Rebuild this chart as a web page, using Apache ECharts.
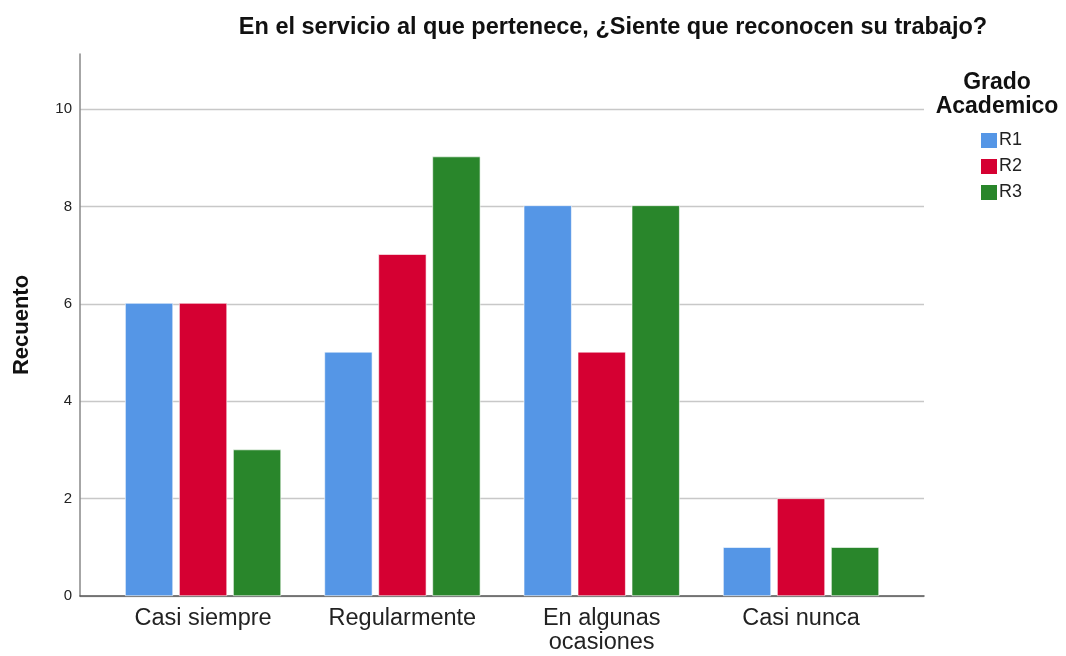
<!DOCTYPE html>
<html>
<head>
<meta charset="utf-8">
<script src="https://cdn.jsdelivr.net/npm/echarts@6/dist/echarts.min.js"></script>
<style>
  html, body { margin: 0; padding: 0; background: #fff; }
  #chart { width: 1066px; height: 656px; }
</style>
</head>
<body>
<div id="chart"></div>
<script>
// 数据
const categories = ['Casi siempre', 'Regularmente', 'En algunas\nocasiones', 'Casi nunca']
const seriesNames = ['R1', 'R2', 'R3']
const r1 = [6, 5, 8, 1]
const r2 = [6, 7, 5, 2]
const r3 = [3, 9, 8, 1]
const yTicks = [0, 2, 4, 6, 8, 10]

const colors = ['#5596E6', '#D50032', '#29862B']
const yMax = 11.1
const font = 'Liberation Sans, Arial, sans-serif'

const chart = echarts.init(document.getElementById('chart'))

const makeBar = (name, data, i) => ({
  name,
  type: 'bar',
  xAxisIndex: 1,
  yAxisIndex: 1,
  data,
  barWidth: 48,
  barGap: '12.5%',
  itemStyle: { color: colors[i], borderColor: '#ffffff', borderWidth: 0.6 }
})

chart.setOption({
  animation: false,
  backgroundColor: '#fff',
  title: [
    {
      text: 'En el servicio al que pertenece, ¿Siente que reconocen su trabajo?',
      left: 608, top: 11, textAlign: 'center',
      textStyle: { fontFamily: font, fontSize: 23.5, fontWeight: 'bold', color: '#111' }
    },
    {
      text: 'Grado\nAcademico',
      left: 992, top: 66, textAlign: 'center',
      textStyle: { fontFamily: font, fontSize: 23, fontWeight: 'bold', color: '#111', lineHeight: 24 }
    }
  ],
  legend: {
    orient: 'vertical',
    left: 974, top: 126,
    itemWidth: 18, itemHeight: 17, itemGap: 7,
    icon: 'rect',
    data: seriesNames,
    textStyle: { fontFamily: font, fontSize: 18, color: '#222', padding: [0, 0, 0, -4] }
  },
  grid: [
    // 网格线与刻度
    { left: 80, right: 142, top: 109, bottom: 60, outerBoundsMode: 'none', containLabel: false },
    // 柱子
    { left: 103.4, right: 165.3, top: 54, bottom: 60, outerBoundsMode: 'none', containLabel: false },
    // 纵轴线
    { left: 80, right: 142, top: 54, bottom: 60, outerBoundsMode: 'none', containLabel: false }
  ],
  xAxis: [
    {
      gridIndex: 0, type: 'category', data: categories,
      axisLine: { lineStyle: { color: '#555', width: 1.5 } },
      axisTick: { show: false }, axisLabel: { show: false }
    },
    {
      gridIndex: 1, type: 'category', data: categories,
      axisLine: { show: false }, axisTick: { show: false },
      axisLabel: {
        fontFamily: font, fontSize: 23.5, color: '#222', margin: 11, lineHeight: 24
      }
    },
    {
      gridIndex: 2, type: 'category', data: categories, show: false
    }
  ],
  yAxis: [
    {
      gridIndex: 0, type: 'value', min: 0, max: 10, interval: 2,
      axisLine: { show: false },
      axisTick: { show: false },
      axisLabel: {
        fontFamily: font, fontSize: 15, color: '#222', margin: 8,
        formatter: v => (yTicks.includes(v) ? String(v) : '')
      },
      splitLine: { lineStyle: { color: '#c8c8c8', width: 1.3 } }
    },
    {
      gridIndex: 1, type: 'value', min: 0, max: yMax, interval: 2,
      show: false, splitLine: { show: false }
    },
    {
      gridIndex: 2, type: 'value', min: 0, max: yMax, interval: 2,
      name: 'Recuento', nameLocation: 'middle', nameGap: 47,
      nameTextStyle: { fontFamily: font, fontSize: 22, fontWeight: 'bold', color: '#111' },
      axisLine: { show: true, lineStyle: { color: '#888', width: 1.5 } },
      axisTick: { show: false }, axisLabel: { show: false },
      splitLine: { show: false }
    }
  ],
  series: [
    makeBar(seriesNames[0], r1, 0),
    makeBar(seriesNames[1], r2, 1),
    makeBar(seriesNames[2], r3, 2)
  ]
})
</script>
</body>
</html>
